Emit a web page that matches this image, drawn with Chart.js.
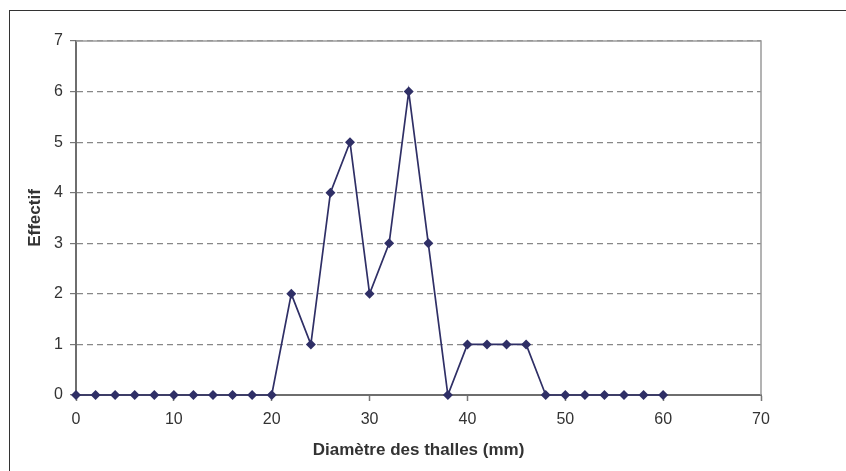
<!DOCTYPE html>
<html>
<head>
<meta charset="utf-8">
<script src="https://cdn.jsdelivr.net/npm/chart.js@4.4.0/dist/chart.umd.min.js"></script>
<style>
  html, body { margin: 0; padding: 0; background: #fff; overflow: hidden; }
  #frame { position: absolute; left: 9px; top: 10px; width: 1000px; height: 1000px; border: 1.5px solid #333; box-sizing: border-box; }
  #wrap { position: absolute; left: 0; top: 0; width: 846px; height: 471px; }
</style>
</head>
<body>
<div id="frame"></div>
<div id="wrap"><canvas id="c" width="846" height="471"></canvas></div>
<script>
// Data
const diametres = [0, 2, 4, 6, 8, 10, 12, 14, 16, 18, 20, 22, 24, 26, 28, 30, 32, 34, 36, 38, 40, 42, 44, 46, 48, 50, 52, 54, 56, 58, 60];
const effectifs = [0, 0, 0, 0, 0, 0, 0, 0, 0, 0, 0, 2, 1, 4, 5, 2, 3, 6, 3, 0, 1, 1, 1, 1, 0, 0, 0, 0, 0, 0, 0];
const xTitle = 'Diamètre des thalles (mm)';
const yTitle = 'Effectif';

const points = diametres.map((d, i) => ({ x: d, y: effectifs[i] }));

const framePlugin = {
  id: 'frame',
  afterDraw(chart) {
    const { ctx, chartArea: a } = chart;
    ctx.save();
    ctx.strokeStyle = '#9a9a9a';
    ctx.lineWidth = 1.5;
    ctx.beginPath();
    ctx.moveTo(a.left, a.top);
    ctx.lineTo(a.right, a.top);
    ctx.lineTo(a.right, a.bottom);
    ctx.stroke();
    ctx.restore();
  }
};

new Chart(document.getElementById('c'), {
  type: 'line',
  data: {
    datasets: [{
      data: points,
      borderColor: '#2f2f66',
      backgroundColor: '#2f2f66',
      borderWidth: 1.7,
      pointStyle: 'rectRot',
      pointRadius: 5,
      pointBorderWidth: 0,
      pointHoverRadius: 5,
      tension: 0,
      clip: false
    }]
  },
  options: {
    responsive: false,
    animation: false,
    events: [],
    layout: { padding: { left: 10, right: 85, top: 41, bottom: 0 } },
    plugins: { legend: { display: false }, tooltip: { enabled: false } },
    scales: {
      x: {
        type: 'linear',
        min: 0, max: 70,
        afterFit(s) { s.height = 76; },
        ticks: { stepSize: 10, color: '#333', font: { family: 'Liberation Sans', size: 16 }, padding: 9, maxRotation: 0 },
        grid: { drawOnChartArea: false, drawTicks: true, tickLength: 6, color: '#777', tickWidth: 1.5, tickBorderDash: [] },
        border: { display: true, color: '#6e6e6e', width: 2 },
        title: { display: true, text: xTitle, color: '#333', font: { family: 'Liberation Sans', size: 17, weight: 'bold' }, padding: { top: 0, bottom: 10 } }
      },
      y: {
        min: 0, max: 7,
        afterFit(s) { s.width = 66; },
        ticks: { stepSize: 1, color: '#333', font: { family: 'Liberation Sans', size: 16 }, padding: 7 },
        grid: { drawOnChartArea: true, drawTicks: true, tickLength: 6, color: '#888', tickColor: '#777', lineWidth: 1.2, tickBorderDash: [] },
        border: { display: true, color: '#6e6e6e', width: 2, dash: [6, 4] },
        title: { display: true, text: yTitle, color: '#333', font: { family: 'Liberation Sans', size: 17, weight: 'bold' }, padding: { top: 15, bottom: 0 } }
      }
    }
  },
  plugins: [framePlugin]
});
</script>
</body>
</html>
